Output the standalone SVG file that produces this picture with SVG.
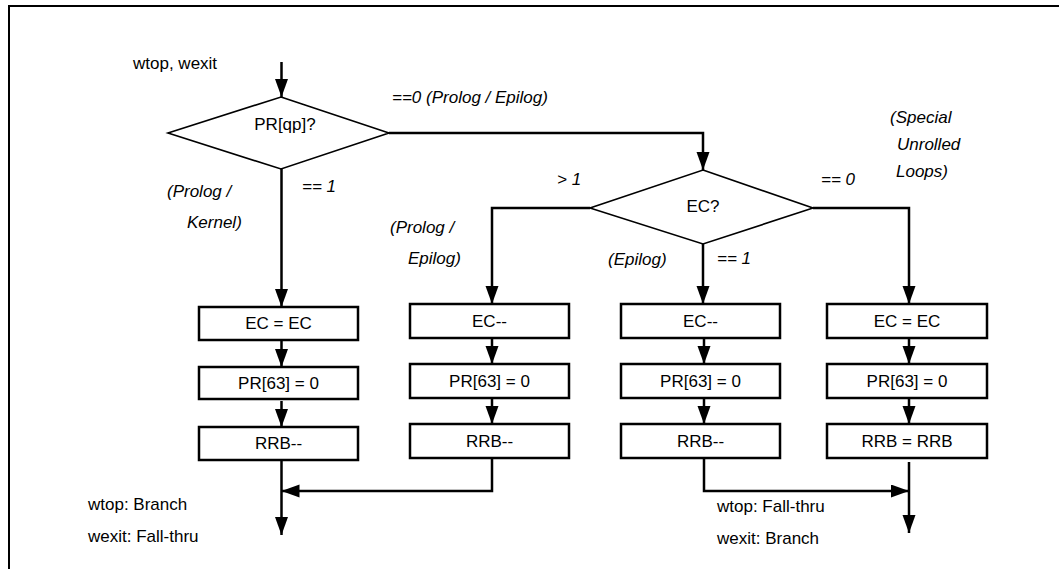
<svg xmlns="http://www.w3.org/2000/svg" width="1059" height="569" viewBox="0 0 1059 569">
<style>
text{font-family:"Liberation Sans",Arial,sans-serif;font-size:17px;fill:#000}
.it{font-style:italic}
.c{text-anchor:middle}
.box{fill:#fff;stroke:#000;stroke-width:2.5}
.dia{fill:#fff;stroke:#000;stroke-width:1.6}
.ln{fill:none;stroke:#000;stroke-width:2.5;marker-end:url(#ah)}
.ln0{fill:none;stroke:#000;stroke-width:2.5}
</style>
<defs>
<marker id="ah" markerUnits="userSpaceOnUse" markerWidth="19" markerHeight="14" refX="18" refY="6.5" orient="auto">
<path d="M0,0 L18,6.5 L0,13 z" fill="#000"/>
</marker>
</defs>
<rect width="1059" height="569" fill="#fff"/>
<path d="M9,569 V6 H1059" fill="none" stroke="#000" stroke-width="2"/>

<g id="labels">
<text x="133" y="69">wtop, wexit</text>
<text x="392" y="103" class="it">==0 (Prolog / Epilog)</text>
<text x="302" y="192" class="it">== 1</text>
<text x="167" y="197" class="it">(Prolog /</text>
<text x="187" y="228" class="it">Kernel)</text>
<text x="557" y="185" class="it">&gt; 1</text>
<text x="390" y="233" class="it">(Prolog /</text>
<text x="408" y="264" class="it">Epilog)</text>
<text x="608" y="265" class="it">(Epilog)</text>
<text x="717" y="264" class="it">== 1</text>
<text x="821" y="185" class="it">== 0</text>
<text x="890" y="123" class="it">(Special</text>
<text x="897" y="150" class="it">Unrolled</text>
<text x="896" y="177" class="it">Loops)</text>
<text x="88" y="510">wtop: Branch</text>
<text x="88" y="542">wexit: Fall-thru</text>
<text x="717" y="512">wtop: Fall-thru</text>
<text x="717" y="544">wexit: Branch</text>
</g>

<g id="connectors">
<path class="ln" d="M281.5,62 V97"/>
<path class="ln" d="M389,133 H703 V170"/>
<path class="ln" d="M281.5,169 V307"/>
<path class="ln" d="M590,208 H492 V304"/>
<path class="ln" d="M703,244 V304"/>
<path class="ln" d="M813,208 H909 V304"/>
<path class="ln" d="M281.5,341 V367"/>
<path class="ln" d="M281.5,401 V427"/>
<path class="ln" d="M492,339 V364"/>
<path class="ln" d="M492,399 V424"/>
<path class="ln" d="M704,339 V364"/>
<path class="ln" d="M704,399 V424"/>
<path class="ln" d="M909,339 V364"/>
<path class="ln" d="M909,399 V424"/>
<path class="ln" d="M281.5,460 V535"/>
<path class="ln" d="M492,458 V491 H281.5"/>
<path class="ln" d="M704,458 V491 H909"/>
<path class="ln" d="M909,462 V533"/>
</g>

<g id="d-prqp">
<polygon class="dia" points="281,97 389,133 281,169 168,133"/>
<text x="285" y="130" class="c">PR[qp]?</text>
</g>
<g id="d-ec">
<polygon class="dia" points="703,170 813,208 703,244 590,208"/>
<text x="703" y="212" class="c">EC?</text>
</g>

<g id="b1-ec"><rect class="box" x="199" y="307" width="159" height="33"/><text x="278.5" y="329" class="c">EC = EC</text></g>
<g id="b1-pr"><rect class="box" x="199" y="367" width="159" height="32"/><text x="278.5" y="389" class="c">PR[63] = 0</text></g>
<g id="b1-rrb"><rect class="box" x="199" y="427" width="159" height="33"/><text x="278.5" y="449" class="c">RRB--</text></g>

<g id="b2-ec"><rect class="box" x="410" y="304" width="159" height="34"/><text x="489.5" y="327" class="c">EC--</text></g>
<g id="b2-pr"><rect class="box" x="410" y="364" width="159" height="34"/><text x="489.5" y="387" class="c">PR[63] = 0</text></g>
<g id="b2-rrb"><rect class="box" x="410" y="424" width="159" height="34"/><text x="489.5" y="447" class="c">RRB--</text></g>

<g id="b3-ec"><rect class="box" x="621" y="304" width="159" height="34"/><text x="700.5" y="327" class="c">EC--</text></g>
<g id="b3-pr"><rect class="box" x="621" y="364" width="159" height="34"/><text x="700.5" y="387" class="c">PR[63] = 0</text></g>
<g id="b3-rrb"><rect class="box" x="621" y="424" width="159" height="34"/><text x="700.5" y="447" class="c">RRB--</text></g>

<g id="b4-ec"><rect class="box" x="827" y="304" width="160" height="34"/><text x="907" y="327" class="c">EC = EC</text></g>
<g id="b4-pr"><rect class="box" x="827" y="364" width="160" height="34"/><text x="907" y="387" class="c">PR[63] = 0</text></g>
<g id="b4-rrb"><rect class="box" x="827" y="424" width="160" height="34"/><text x="907" y="447" class="c">RRB = RRB</text></g>
</svg>
